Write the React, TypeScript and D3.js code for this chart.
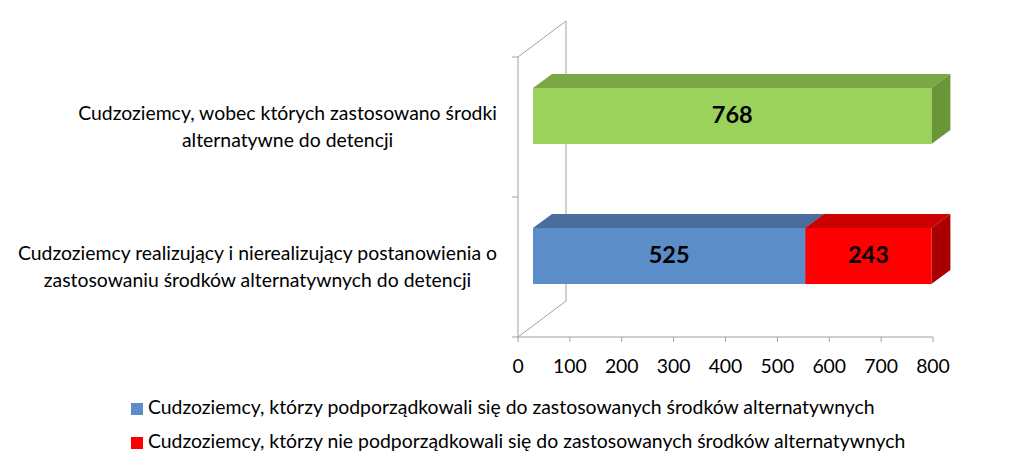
import React, { useEffect, useRef } from "react";
import * as d3 from "d3";

const categories: string[][] = [
  ["Cudzoziemcy, wobec których zastosowano środki", "alternatywne do detencji"],
  ["Cudzoziemcy realizujący i nierealizujący postanowienia o", "zastosowaniu środków alternatywnych do detencji"],
];
const totalApplied: (number | null)[] = [768, null];
const complied: (number | null)[] = [null, 525];
const notComplied: (number | null)[] = [null, 243];
const xTicks: number[] = [0, 100, 200, 300, 400, 500, 600, 700, 800];
const legendLabels: string[] = [
  "Cudzoziemcy, którzy podporządkowali się do zastosowanych środków alternatywnych",
  "Cudzoziemcy, którzy nie podporządkowali się do zastosowanych środków alternatywnych",
];

const FONT = "Lato, 'Open Sans', sans-serif";
const FS = 19.4;

type Palette = { front: string; top: string; side: string };
const GREEN: Palette = { front: "#9BD25B", top: "#7BA845", side: "#6A9638" };
const BLUE: Palette = { front: "#5B8DC9", top: "#4A6D9C", side: "#3F5F8A" };
const RED: Palette = { front: "#FF0000", top: "#CC0000", side: "#A80000" };

export default function App() {
  const ref = useRef<SVGSVGElement>(null);

  useEffect(() => {
    const svg = d3.select(ref.current);
    svg.selectAll("*").remove();

    const x = d3.scaleLinear().domain([0, 800]).range([518, 933]);
    const y = d3
      .scaleBand<number>()
      .domain(categories.map((_, i) => i))
      .range([57, 337])
      .paddingInner(0.6)
      .paddingOuter(0.3);

    const wall = { dx: 48, dy: -36 };
    const front = { dx: 15, dy: -11 };
    const back = { dx: 34, dy: -25 };
    const axisColor = "#A0A0A0";

    const g = svg.append("g");

    const y0 = 57, y1 = 337;
    const path = (pts: [number, number][]) =>
      "M" + pts.map((p) => p.join(",")).join("L");
    g.append("path")
      .attr("d", path([[x(0), y0], [x(0), y1]]))
      .attr("stroke", axisColor).attr("fill", "none");
    g.append("path")
      .attr("d", path([[x(0), y0], [x(0) + wall.dx, y0 + wall.dy], [x(0) + wall.dx, y1 + wall.dy], [x(0), y1]]))
      .attr("stroke", axisColor).attr("fill", "none");
    g.append("path")
      .attr("d", path([[x(0), y1], [x(800), y1]]))
      .attr("stroke", axisColor).attr("fill", "none");

    const bounds = [y0, (y0 + y1) / 2, y1];
    bounds.forEach((b) => {
      g.append("line")
        .attr("x1", x(0) - 6).attr("x2", x(0))
        .attr("y1", b).attr("y2", b)
        .attr("stroke", axisColor);
    });
    xTicks.forEach((t) => {
      g.append("line")
        .attr("x1", x(t)).attr("x2", x(t))
        .attr("y1", y1).attr("y2", y1 + 5)
        .attr("stroke", axisColor);
      g.append("text")
        .attr("x", x(t)).attr("y", 368)
        .attr("text-anchor", "middle")
        .attr("dominant-baseline", "middle")
        .attr("font-family", FONT).attr("font-size", FS)
        .attr("fill", "#000")
        .text(String(t));
    });

    categories.forEach((lines, i) => {
      const cy = (y(i) as number) + y.bandwidth() / 2;
      const tmp = lines.map((l) =>
        g.append("text")
          .attr("font-family", FONT).attr("font-size", FS)
          .attr("fill", "#000")
          .attr("text-anchor", "middle")
          .attr("dominant-baseline", "middle")
          .text(l)
      );
      const widths = tmp.map((t) => (t.node() as SVGTextElement).getComputedTextLength());
      const maxW = Math.max(...widths);
      const cx = 497 - maxW / 2;
      const lh = 26.5;
      tmp.forEach((t, k) => {
        t.attr("x", cx).attr("y", cy + 1.5 + (k - (lines.length - 1) / 2) * lh);
      });
    });

    const drawBar = (i: number, v0: number, v1: number, pal: Palette, label: string) => {
      const top = (y(i) as number);
      const bot = top + y.bandwidth();
      const xa = x(v0), xb = x(v1);
      const fx0 = xa + front.dx, fx1 = xb + front.dx;
      const ft = top + front.dy, fb = bot + front.dy;
      const bx0 = xa + back.dx, bx1 = xb + back.dx;
      const bt = top + back.dy, bb = bot + back.dy;
      g.append("path")
        .attr("d", path([[fx0, ft], [bx0, bt], [bx1, bt], [fx1, ft]]) + "Z")
        .attr("fill", pal.top);
      g.append("path")
        .attr("d", path([[fx1, ft], [bx1, bt], [bx1, bb], [fx1, fb]]) + "Z")
        .attr("fill", pal.side);
      g.append("rect")
        .attr("x", fx0).attr("y", ft)
        .attr("width", fx1 - fx0).attr("height", fb - ft)
        .attr("fill", pal.front);
      g.append("text")
        .attr("x", (fx0 + fx1) / 2).attr("y", (ft + fb) / 2 + 1)
        .attr("text-anchor", "middle")
        .attr("dominant-baseline", "middle")
        .attr("font-family", FONT).attr("font-size", 23.5)
        .attr("font-weight", "bold")
        .attr("fill", "#000")
        .text(label);
    };

    categories.forEach((_, i) => {
      const t = totalApplied[i];
      if (t != null) drawBar(i, 0, t, GREEN, String(t));
      const c = complied[i];
      const n = notComplied[i];
      let acc = 0;
      if (c != null) { drawBar(i, acc, acc + c, BLUE, String(c)); acc += c; }
      if (n != null) { drawBar(i, acc, acc + n, RED, String(n)); acc += n; }
    });

    const legendColors = [BLUE.front, RED.front];
    legendLabels.forEach((l, k) => {
      const ly = 409 + k * 34;
      g.append("rect")
        .attr("x", 131).attr("y", ly - 6)
        .attr("width", 12).attr("height", 12)
        .attr("fill", legendColors[k]);
      g.append("text")
        .attr("x", 148).attr("y", ly)
        .attr("dominant-baseline", "middle")
        .attr("font-family", FONT).attr("font-size", FS)
        .attr("fill", "#000")
        .text(l);
    });
  }, []);

  return (
    <svg
      ref={ref}
      width={1024}
      height={466}
      style={{ position: "absolute", left: 0, top: 0, background: "#fff" }}
    />
  );
}
